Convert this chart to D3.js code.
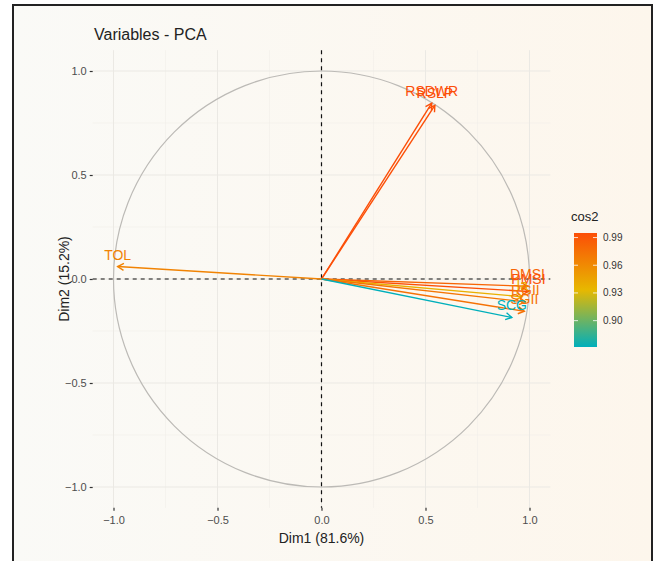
<!DOCTYPE html>
<html>
<head>
<meta charset="utf-8">
<script src="https://cdn.jsdelivr.net/npm/d3@7"></script>
<style>
  body { margin: 0; background: #fff; }
  text { font-family: "Liberation Sans", Arial, sans-serif; }
</style>
</head>
<body>
<script>
// Variable names and their coordinates on Dim1 / Dim2
var varNames = ["TOL", "RSLP", "RSDWR", "DMSI", "PMSI", "Ia", "RGII", "SGII", "SCG"];
var dim1 = [-0.98, 0.545, 0.53, 0.99, 0.995, 0.965, 0.98, 0.975, 0.915];
var dim2 = [0.06, 0.835, 0.845, -0.035, -0.06, -0.085, -0.11, -0.155, -0.185];
var axisTicks = [-1.0, -0.5, 0.0, 0.5, 1.0];
var minorTicks = [-0.75, -0.25, 0.25, 0.75];
var legendTicks = [0.90, 0.93, 0.96, 0.99];
var gradientColors = ["#00AFBB", "#E7B800", "#FC4E07"];

var svgWidth = 654;
var svgHeight = 561;

var svg = d3.select("body")
  .append("svg")
  .attr("width", svgWidth)
  .attr("height", svgHeight);

// Background with a warm gradient and a dark frame
var defs = svg.append("defs");
var bg = defs.append("linearGradient").attr("id", "bg");
bg.append("stop").attr("offset", "0%").attr("stop-color", "#fafaf7");
bg.append("stop").attr("offset", "100%").attr("stop-color", "#fdf6ec");

svg.append("rect")
  .attr("x", 13).attr("y", 5)
  .attr("width", 639).attr("height", 570)
  .attr("fill", "url(#bg)")
  .attr("stroke", "#222")
  .attr("stroke-width", 2);

// Scales: equal aspect, panel spans -1.1..1.1 on both axes
var xScale = d3.scaleLinear().domain([-1.1, 1.1]).range([92.7, 550.3]);
var yScale = d3.scaleLinear().domain([-1.1, 1.1]).range([507.8, 50.2]);

var cos2 = dim1.map((d, i) => d * d + dim2[i] * dim2[i]);
var cosExtent = d3.extent(cos2);
var colorScale = d3.scaleLinear()
  .domain([cosExtent[0], (cosExtent[0] + cosExtent[1]) / 2, cosExtent[1]])
  .range(gradientColors);

var chartGroup = svg.append("g");

// Grid lines
chartGroup.selectAll(".minorx").data(minorTicks).enter().append("line")
  .attr("x1", d => xScale(d)).attr("x2", d => xScale(d))
  .attr("y1", yScale(1.1)).attr("y2", yScale(-1.1))
  .attr("stroke", "#f1efea").attr("stroke-width", 0.6);
chartGroup.selectAll(".minory").data(minorTicks).enter().append("line")
  .attr("y1", d => yScale(d)).attr("y2", d => yScale(d))
  .attr("x1", xScale(-1.1)).attr("x2", xScale(1.1))
  .attr("stroke", "#f1efea").attr("stroke-width", 0.6);
chartGroup.selectAll(".majorx").data(axisTicks).enter().append("line")
  .attr("x1", d => xScale(d)).attr("x2", d => xScale(d))
  .attr("y1", yScale(1.1)).attr("y2", yScale(-1.1))
  .attr("stroke", "#ebe9e4").attr("stroke-width", 1);
chartGroup.selectAll(".majory").data(axisTicks).enter().append("line")
  .attr("y1", d => yScale(d)).attr("y2", d => yScale(d))
  .attr("x1", xScale(-1.1)).attr("x2", xScale(1.1))
  .attr("stroke", "#ebe9e4").attr("stroke-width", 1);

// Axes (ticks and labels only)
var bottomAxis = d3.axisBottom(xScale).tickValues(axisTicks)
  .tickFormat(d3.format(".1f")).tickSize(3).tickPadding(5);
var leftAxis = d3.axisLeft(yScale).tickValues(axisTicks)
  .tickFormat(d3.format(".1f")).tickSize(3).tickPadding(3);

var xAxisG = chartGroup.append("g")
  .attr("transform", "translate(0," + yScale(-1.1) + ")")
  .call(bottomAxis);
var yAxisG = chartGroup.append("g")
  .attr("transform", "translate(" + xScale(-1.1) + ",0)")
  .call(leftAxis);
[xAxisG, yAxisG].forEach(function(g) {
  g.select(".domain").remove();
  g.selectAll(".tick line").attr("stroke", "#333").attr("stroke-width", 1.2);
  g.selectAll(".tick text").attr("fill", "#4d4d4d").style("font-size", "11px");
});

// Correlation circle
chartGroup.append("circle")
  .attr("cx", xScale(0)).attr("cy", yScale(0))
  .attr("r", xScale(1) - xScale(0))
  .attr("fill", "none")
  .attr("stroke", "#bcbab6")
  .attr("stroke-width", 1.2);

// Dashed reference lines
chartGroup.append("line")
  .attr("x1", xScale(-1.1)).attr("x2", xScale(1.1))
  .attr("y1", yScale(0)).attr("y2", yScale(0))
  .attr("stroke", "#111").attr("stroke-width", 1.2).attr("stroke-dasharray", "4,4");
chartGroup.append("line")
  .attr("x1", xScale(0)).attr("x2", xScale(0))
  .attr("y1", yScale(1.1)).attr("y2", yScale(-1.1))
  .attr("stroke", "#111").attr("stroke-width", 1.2).attr("stroke-dasharray", "4,4");

// Arrows
var arrowGroup = chartGroup.append("g");
varNames.forEach(function(name, i) {
  var x0 = xScale(0), y0 = yScale(0);
  var x1 = xScale(dim1[i]), y1 = yScale(dim2[i]);
  var ang = Math.atan2(y1 - y0, x1 - x0);
  var len = 7, spread = Math.PI / 6;
  var col = colorScale(cos2[i]);
  arrowGroup.append("line")
    .attr("x1", x0).attr("y1", y0).attr("x2", x1).attr("y2", y1)
    .attr("stroke", col).attr("stroke-width", 1.4);
  arrowGroup.append("path")
    .attr("d", "M" + (x1 - len * Math.cos(ang - spread)) + "," + (y1 - len * Math.sin(ang - spread)) +
      "L" + x1 + "," + y1 +
      "L" + (x1 - len * Math.cos(ang + spread)) + "," + (y1 - len * Math.sin(ang + spread)))
    .attr("fill", "none").attr("stroke", col).attr("stroke-width", 1.4);
});

// Variable labels
chartGroup.selectAll(".varlabel").data(varNames).enter().append("text")
  .attr("x", (d, i) => xScale(dim1[i]))
  .attr("y", (d, i) => yScale(dim2[i]) - 7)
  .attr("text-anchor", "middle")
  .attr("fill", (d, i) => colorScale(cos2[i]))
  .style("font-size", "14px")
  .text(d => d);

// Titles
svg.append("text")
  .attr("x", 94).attr("y", 40)
  .attr("fill", "#222")
  .style("font-size", "16px")
  .text("Variables - PCA");

svg.append("text")
  .attr("x", xScale(0)).attr("y", 543)
  .attr("text-anchor", "middle")
  .attr("fill", "#222")
  .style("font-size", "14px")
  .text("Dim1 (81.6%)");

svg.append("text")
  .attr("transform", "translate(69," + yScale(0) + ") rotate(-90)")
  .attr("text-anchor", "middle")
  .attr("fill", "#222")
  .style("font-size", "14px")
  .text("Dim2 (15.2%)");

// Colour bar legend
var barX = 574, barW = 23, barTop = 233, barBottom = 347;
var legendScale = d3.scaleLinear().domain(cosExtent).range([barBottom, barTop]);
var lg = defs.append("linearGradient").attr("id", "cosbar")
  .attr("x1", "0").attr("y1", "1").attr("x2", "0").attr("y2", "0");
gradientColors.forEach(function(c, i) {
  lg.append("stop").attr("offset", (i * 50) + "%").attr("stop-color", c);
});

svg.append("text")
  .attr("x", 571).attr("y", 221)
  .attr("fill", "#222")
  .style("font-size", "13px")
  .text("cos2");

svg.append("rect")
  .attr("x", barX).attr("y", barTop)
  .attr("width", barW).attr("height", barBottom - barTop)
  .attr("fill", "url(#cosbar)");

var legendG = svg.append("g");
legendTicks.forEach(function(t) {
  var y = legendScale(t);
  legendG.append("line").attr("x1", barX).attr("x2", barX + 4)
    .attr("y1", y).attr("y2", y).attr("stroke", "#fff").attr("stroke-width", 0.8);
  legendG.append("line").attr("x1", barX + barW - 4).attr("x2", barX + barW)
    .attr("y1", y).attr("y2", y).attr("stroke", "#fff").attr("stroke-width", 0.8);
  legendG.append("text")
    .attr("x", barX + barW + 6).attr("y", y + 3.5)
    .attr("fill", "#333")
    .style("font-size", "10px")
    .text(d3.format(".2f")(t));
});
</script>
</body>
</html>
